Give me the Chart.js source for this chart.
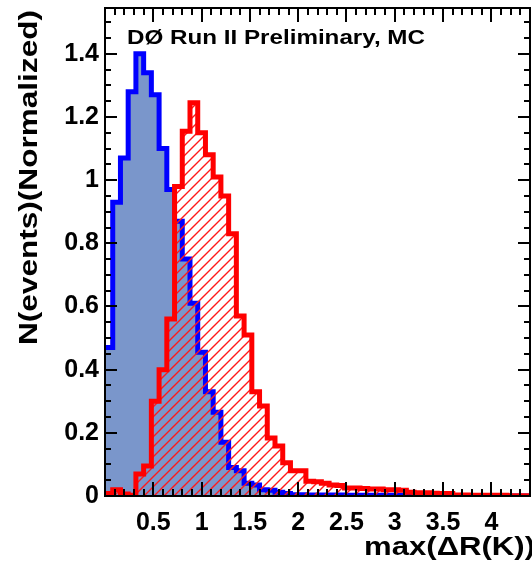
<!DOCTYPE html>
<html>
<head>
<meta charset="utf-8">
<script src="https://cdn.jsdelivr.net/npm/chart.js@4.4.0/dist/chart.umd.min.js"></script>
<style>
  body { margin: 0; background: #fff; }
  canvas { display: block; }
</style>
</head>
<body>
<canvas id="drChart" width="532" height="567"></canvas>
<script>
// 55 bins of 0.08 between 0 and 4.4
const binLow = 0;
const binWidth = 0.08;

// blue sample, normalized
const blueCounts = [
  0.47, 0.93, 1.07, 1.28, 1.40, 1.34, 1.27, 1.10, 0.97, 0.87,
  0.75, 0.61, 0.455, 0.33, 0.265, 0.17, 0.09, 0.08, 0.04, 0.035,
  0.02, 0.018, 0.012, 0.008, 0.004, 0.004, 0.003, 0.003, 0.003, 0.003,
  0.003, 0.002, 0.002, 0.002, 0.002, 0.002, 0.002, 0.002, 0.002, 0.002,
  0.001, 0.001, 0.001, 0.001, 0.001, 0, 0, 0, 0, 0,
  0, 0, 0, 0, 0
];

// red sample, normalized
const redCounts = [
  0.008, 0.02, 0.006, 0.002, 0.07, 0.095, 0.30, 0.40, 0.56, 0.98,
  1.155, 1.245, 1.15, 1.08, 1.01, 0.95, 0.83, 0.57, 0.51, 0.33,
  0.285, 0.184, 0.158, 0.105, 0.08, 0.08, 0.047, 0.045, 0.04, 0.035,
  0.033, 0.025, 0.025, 0.024, 0.022, 0.022, 0.02, 0.02, 0.018, 0.012,
  0.01, 0.01, 0.009, 0.008, 0.008, 0.003, 0.003, 0.002, 0.002, 0.002,
  0.002, 0.002, 0.001, 0.001, 0.001
];

const xTickLabels = ['0.5', '1', '1.5', '2', '2.5', '3', '3.5', '4'];
const yTickLabels = ['0', '0.2', '0.4', '0.6', '0.8', '1', '1.2', '1.4'];

const xMin = 0, xMax = 4.4;
const yMin = 0, yMax = 1.545;
const FONT = '"Liberation Sans", Arial, Helvetica, sans-serif';

// step points: one per left bin edge plus the closing edge
function stepPoints(counts) {
  const pts = counts.map((c, i) => ({ x: binLow + i * binWidth, y: c }));
  pts.push({ x: binLow + counts.length * binWidth, y: counts[counts.length - 1] });
  return pts;
}

function hatch(color) {
  const s = 10;
  const c = document.createElement('canvas');
  c.width = s; c.height = s;
  const g = c.getContext('2d');
  g.strokeStyle = color;
  g.lineWidth = 1.4;
  g.beginPath();
  g.moveTo(-1, s + 1); g.lineTo(s + 1, -1);
  g.moveTo(-s / 2 - 1, s / 2 + 1); g.lineTo(s / 2 + 1, -s / 2 - 1);
  g.moveTo(s / 2 - 1, s * 1.5 + 1); g.lineTo(s * 1.5 + 1, s / 2 - 1);
  g.stroke();
  return g.createPattern(c, 'repeat');
}

// text squeezed/stretched horizontally to a given width
function fittedText(ctx, text, x, y, width, font, rotate) {
  ctx.save();
  ctx.font = font;
  const w = ctx.measureText(text).width;
  ctx.translate(x, y);
  if (rotate) ctx.rotate(-Math.PI / 2);
  ctx.scale(width / w, 1);
  ctx.textAlign = 'left';
  ctx.textBaseline = 'middle';
  ctx.fillStyle = '#000';
  ctx.fillText(text, 0, 0);
  ctx.restore();
}

const frameAndLabels = {
  id: 'frameAndLabels',
  afterDatasetsDraw(chart) {
    const { ctx, chartArea: a, scales: { x, y } } = chart;
    ctx.save();
    ctx.strokeStyle = '#000';
    ctx.lineWidth = 2;
    ctx.beginPath();
    // x ticks every 0.1, long ones every 0.5, on bottom and top
    for (let i = 1; i * 0.1 < xMax - 1e-6; i++) {
      const px = Math.round(x.getPixelForValue(i * 0.1));
      const len = i % 5 === 0 ? 14 : 7;
      ctx.moveTo(px, a.bottom); ctx.lineTo(px, a.bottom - len);
      ctx.moveTo(px, a.top); ctx.lineTo(px, a.top + len);
    }
    // y ticks every 0.05, long ones every 0.2, on left and right
    for (let j = 1; j * 0.05 < yMax - 1e-6; j++) {
      const py = Math.round(y.getPixelForValue(j * 0.05));
      const len = j % 4 === 0 ? 12 : 6;
      ctx.moveTo(a.left, py); ctx.lineTo(a.left + len, py);
      ctx.moveTo(a.right, py); ctx.lineTo(a.right - len, py);
    }
    ctx.stroke();
    ctx.strokeRect(a.left, a.top, a.right - a.left, a.bottom - a.top);
    ctx.restore();

    fittedText(ctx, 'DØ Run II Preliminary, MC', 127, 38, 298, 'bold 21px ' + FONT);
    fittedText(ctx, 'max(ΔR(K))', 364, 548, 171, 'bold 26px ' + FONT);
    fittedText(ctx, 'N(events)(Normalized)', 30, 345, 335, 'bold 26px ' + FONT, true);
  }
};

new Chart(document.getElementById('drChart'), {
  type: 'line',
  data: {
    datasets: [
      {
        label: 'red',
        data: stepPoints(redCounts),
        stepped: true,
        borderColor: '#ff0000',
        borderWidth: 5,
        borderJoinStyle: 'miter',
        backgroundColor: hatch('#ff1a1a'),
        fill: 'origin',
        pointRadius: 0
      },
      {
        label: 'blue',
        data: stepPoints(blueCounts),
        stepped: true,
        borderColor: '#0000ff',
        borderWidth: 5,
        borderJoinStyle: 'miter',
        backgroundColor: '#7a96cb',
        fill: 'origin',
        pointRadius: 0
      }
    ]
  },
  options: {
    responsive: false,
    animation: false,
    layout: { padding: { left: 0, right: 2, top: 8, bottom: 0 } },
    plugins: { legend: { display: false }, tooltip: { enabled: false } },
    scales: {
      x: {
        type: 'linear',
        min: xMin,
        max: xMax,
        grid: { display: false, drawTicks: false },
        border: { display: false },
        afterFit(s) { s.height = 71; s.paddingLeft = 0; s.paddingRight = 0; },
        ticks: {
          stepSize: 0.5,
          includeBounds: false,
          autoSkip: false,
          maxRotation: 0,
          padding: 12,
          color: '#000',
          font: { family: FONT, size: 25, weight: 'bold' },
          callback: v => {
            const k = Math.round(v * 2) - 1;
            return k >= 0 && k < xTickLabels.length ? xTickLabels[k] : '';
          }
        }
      },
      y: {
        min: yMin,
        max: yMax,
        grid: { display: false, drawTicks: false },
        border: { display: false },
        afterFit(s) { s.width = 105; s.paddingTop = 0; s.paddingBottom = 0; },
        ticks: {
          stepSize: 0.2,
          includeBounds: false,
          padding: 6,
          color: '#000',
          font: { family: FONT, size: 25, weight: 'bold' },
          callback: v => yTickLabels[Math.round(v * 5)] ?? ''
        }
      }
    }
  },
  plugins: [frameAndLabels]
});
</script>
</body>
</html>
